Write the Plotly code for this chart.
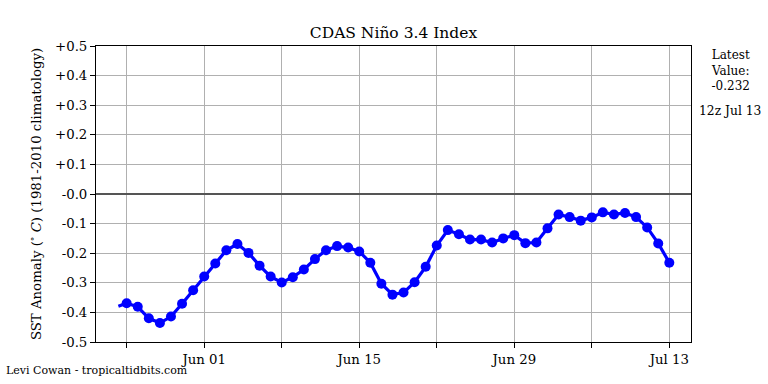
import pandas as pd
import plotly.graph_objects as go

# Daily values (12z), May 25 - Jul 13
start_date = "2024-05-25 12:00"
values = [-0.369, -0.381, -0.420, -0.436, -0.414, -0.371, -0.325, -0.279, -0.235, -0.190,
          -0.169, -0.199, -0.242, -0.279, -0.299, -0.281, -0.255, -0.220, -0.190, -0.176,
          -0.181, -0.194, -0.232, -0.303, -0.340, -0.333, -0.298, -0.246, -0.174, -0.122,
          -0.136, -0.154, -0.154, -0.164, -0.150, -0.139, -0.166, -0.164, -0.116, -0.069,
          -0.078, -0.090, -0.079, -0.062, -0.069, -0.064, -0.078, -0.113, -0.167, -0.232]
# earlier sub-daily point where the line begins (no marker)
lead_time = "2024-05-24 18:00"
lead_value = -0.379

x_tickvals = ["2024-05-25 12:00", "2024-06-01 12:00", "2024-06-08 12:00", "2024-06-15 12:00",
              "2024-06-22 12:00", "2024-06-29 12:00", "2024-07-06 12:00", "2024-07-13 12:00"]
x_ticktext = [" ", "Jun 01", " ", "Jun 15", " ", "Jun 29", " ", "Jul 13"]
y_tickvals = [0.5, 0.4, 0.3, 0.2, 0.1, 0.0, -0.1, -0.2, -0.3, -0.4, -0.5]
y_ticktext = ["+0.5", "+0.4", "+0.3", "+0.2", "+0.1", "-0.0", "-0.1", "-0.2", "-0.3", "-0.4", "-0.5"]
latest_value = -0.232
latest_time = "12z Jul 13"

dates = pd.date_range(start_date, periods=len(values), freq="D")
xs = [pd.Timestamp(lead_time)] + list(dates)
ys = [lead_value] + values
sizes = [0] + [10] * len(values)

FONT = "'DejaVu Serif', 'Liberation Serif', serif"
fig = go.Figure()
fig.add_trace(go.Scatter(
    x=xs, y=ys, mode="lines+markers",
    line=dict(color="#0000ff", width=3.2),
    marker=dict(color="#0000ff", size=sizes, opacity=1, line=dict(width=0)),
    showlegend=False, hoverinfo="skip",
))

fig.update_layout(
    width=768, height=384,
    margin=dict(l=96, r=77, t=46, b=42),
    paper_bgcolor="white", plot_bgcolor="white",
    font=dict(family=FONT, size=13, color="black"),
    title=dict(text="CDAS Niño 3.4 Index", x=(96 + 691) / 2 / 768, xanchor="center",
               y=1 - 33 / 384, yanchor="middle", font=dict(size=15.5, family=FONT)),
    xaxis=dict(
        range=["2024-05-22 17:30", "2024-07-15 11:00"],
        tickvals=x_tickvals, ticktext=x_ticktext,
        showgrid=True, gridcolor="#b0b0b0", gridwidth=1,
        showline=True, linecolor="black", linewidth=1, mirror=True,
        ticks="outside", ticklen=5, tickcolor="black",
        tickfont=dict(size=13.3, family=FONT), zeroline=False,
    ),
    yaxis=dict(
        range=[-0.5, 0.5],
        tickvals=y_tickvals, ticktext=y_ticktext,
        showgrid=True, gridcolor="#b0b0b0", gridwidth=1,
        showline=True, linecolor="black", linewidth=1, mirror=True,
        ticks="outside", ticklen=5, tickcolor="black",
        tickfont=dict(size=13.3, family=FONT),
        zeroline=True, zerolinecolor="#555555", zerolinewidth=1.5,
        title=dict(text="SST Anomaly (<sup>∘</sup> <i>C</i>) (1981-2010 climatology)",
                   font=dict(size=13.3, family=FONT), standoff=10),
    ),
)

fig.add_annotation(
    text=f"Latest<br>Value:<br>{latest_value:.3f}", xref="paper", yref="paper",
    x=1.066, y=1.0, xanchor="center", yanchor="top", showarrow=False,
    font=dict(size=12, family=FONT),
)
fig.add_annotation(
    text=latest_time, xref="paper", yref="paper",
    x=1.066, y=1 - (111 - 46) / 296, xanchor="center", yanchor="middle", showarrow=False,
    font=dict(size=12.3, family=FONT),
)
fig.add_annotation(
    text="Levi Cowan - tropicaltidbits.com", xref="paper", yref="paper",
    x=-96 / 595 + 4 / 595, y=-(370 - 342) / 296, xanchor="left", yanchor="middle",
    showarrow=False, font=dict(size=11, family=FONT),
)

fig.write_html("out.html", config={"displayModeBar": False},
               post_script="document.body.style.margin='0';")
